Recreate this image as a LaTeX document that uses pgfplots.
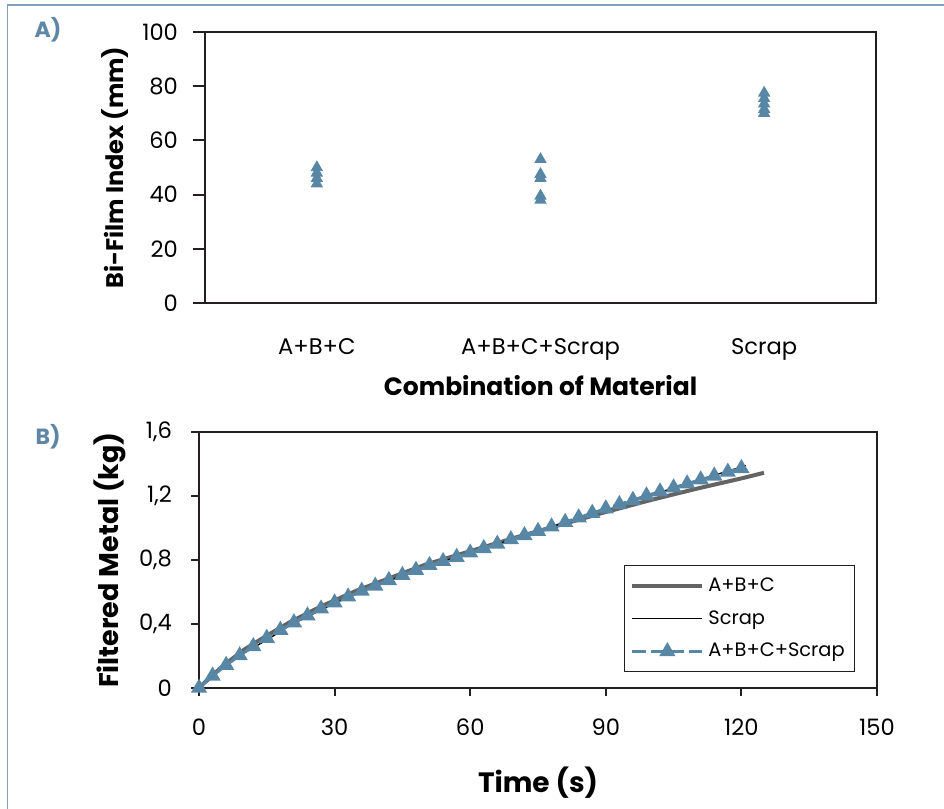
\documentclass[border=0pt]{standalone}
\usepackage{fontspec}
\setmainfont{Poppins}
\usepackage{pgfplots}
\pgfplotsset{compat=1.18}
\definecolor{tri}{RGB}{88,135,165}
\definecolor{gline}{RGB}{100,100,100}
\definecolor{framec}{RGB}{130,160,185}
\definecolor{tagc}{RGB}{95,135,165}
\definecolor{axc}{RGB}{35,31,32}

\pgfplotsset{
  common/.style={
    scale only axis,
    axis line style={axc, line width=1pt},
    every tick/.style={axc, line width=1pt},
    tick align=outside,
    tick pos=left,
    ticklabel style={font=\fontsize{11.3}{13}\selectfont},
    /pgf/number format/assume math mode=true,
  },
}

\begin{document}
\begin{tikzpicture}
\useasboundingbox (0,0) rectangle (472pt,404.5pt);
\draw[framec, line width=0.8pt] (3.75pt,0) -- (3.75pt,402pt) -- (472pt,402pt);
\node[font=\bfseries\fontsize{11}{13}\selectfont, text=tagc] at (24pt,389.5pt) {A)};
\node[font=\bfseries\fontsize{11}{13}\selectfont, text=tagc] at (24pt,186pt) {B)};

% panel A: bi-film index per material combination
\begin{axis}[common,
  at={(102.5pt,253pt)}, anchor=south west,
  width=335.5pt, height=135.5pt,
  xmin=0, xmax=3, ymin=0, ymax=100,
  xtick={0.5,1.5,2.5},
  xticklabels={A+B+C, A+B+C+Scrap, Scrap},
  x tick style={draw=none},
  xticklabel style={yshift=-8pt},
  ytick={0,20,40,60,80,100},
  major tick length=6pt,
  yticklabel style={xshift=-4pt},
  xlabel={Combination of Material},
  ylabel={Bi-Film Index (mm)},
  xlabel style={font=\bfseries\fontsize{12.5}{14}\selectfont, at={(axis description cs:0.5,-0.306)}, anchor=center},
  ylabel style={font=\bfseries\fontsize{12}{14}\selectfont, at={(axis description cs:-0.134,0.5)}, anchor=center},
]
\addplot[only marks, mark=triangle*, mark size=3.2pt, color=tri]
  coordinates {(0.5,50) (0.5,48) (0.5,46) (0.5,44)
               (1.5,53) (1.5,47.5) (1.5,46) (1.5,39.5) (1.5,38)
               (2.5,77.5) (2.5,75.5) (2.5,73.5) (2.5,71.5) (2.5,70)};
\end{axis}

% panel B: filtered metal over time
\begin{axis}[common,
  at={(99.5pt,60.5pt)}, anchor=south west,
  width=339pt, height=128pt,
  xmin=0, xmax=150, ymin=0, ymax=1.6,
  xtick={0,30,60,90,120,150},
  ytick={0,0.4,0.8,1.2,1.6},
  major tick length=4pt,
  yticklabel style={xshift=-6pt, /pgf/number format/.cd, fixed, precision=1, use comma},
  xticklabel style={yshift=-8pt},
  xlabel={Time (s)},
  ylabel={Filtered Metal (kg)},
  xlabel style={font=\bfseries\fontsize{14}{16}\selectfont, at={(axis description cs:0.5,-0.371)}, anchor=center},
  ylabel style={font=\bfseries\fontsize{13.5}{15}\selectfont, at={(axis description cs:-0.131,0.5)}, anchor=center},
  legend style={at={(0.968,0.48)}, anchor=north east, draw=axc, line width=0.6pt,
    font=\fontsize{9.7}{11}\selectfont, row sep=4pt, inner xsep=3pt, inner ysep=4pt},
  legend cell align=left,
  legend image code/.code={\draw[mark repeat=2, mark phase=2, #1] plot coordinates {(0pt,0pt) (17.5pt,0pt) (35pt,0pt)};},
]
\addplot[gline, line width=2pt, no marks] coordinates {
  (0,0) (2,0.055) (5,0.13) (7,0.175) (10,0.24) (14,0.31) (20,0.41) (27,0.51)
  (35,0.61) (42,0.685) (50,0.77) (60,0.855) (70,0.94) (80,1.02) (90,1.10)
  (100,1.175) (110,1.245) (120,1.31) (125,1.345)};
\addlegendentry{A+B+C}
\addplot[black, line width=0.7pt, no marks] coordinates {
  (0,0) (2,0.045) (5,0.12) (10,0.22) (15,0.30) (20,0.39) (30,0.53) (40,0.648)
  (50,0.755) (60,0.845) (70,0.935) (80,1.025) (90,1.11) (100,1.205) (110,1.295) (121,1.39)};
\addlegendentry{Scrap}
\addplot[tri, line width=1.5pt, dash pattern=on 7pt off 2.5pt, mark=triangle*, mark size=3.2pt,
  mark options={solid}] coordinates {
  (0,0) (3,0.076) (6,0.143) (9,0.203) (12,0.260) (15,0.312) (18,0.362) (21,0.409)
  (24,0.452) (27,0.495) (30,0.533) (33,0.570) (36,0.606) (39,0.638) (42,0.673)
  (45,0.705) (48,0.737) (51,0.767) (54,0.792) (57,0.818) (60,0.845) (63,0.873)
  (66,0.900) (69,0.928) (72,0.954) (75,0.980) (78,1.008) (81,1.036) (84,1.065)
  (87,1.093) (90,1.121) (93,1.148) (96,1.174) (99,1.202) (102,1.227) (105,1.252)
  (108,1.277) (111,1.302) (114,1.326) (117,1.350) (120,1.373)};
\addlegendentry{A+B+C+Scrap}
\end{axis}
\end{tikzpicture}
\end{document}
